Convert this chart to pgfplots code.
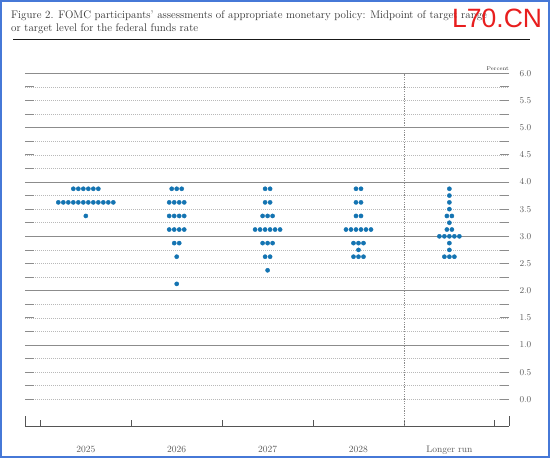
\documentclass[border=0pt]{standalone}
\usepackage{pgfplots}
\pgfplotsset{compat=1.18}
\usepackage{fontspec}
\newfontfamily\wmfont{Liberation Sans}
\definecolor{dotblue}{RGB}{20,116,178}
\definecolor{frameblue}{RGB}{70,120,215}
\definecolor{wmred}{RGB}{232,30,30}
\definecolor{solidgrid}{RGB}{140,140,140}
\definecolor{dotgrid}{RGB}{185,185,185}
\definecolor{axisgray}{RGB}{85,85,85}
\definecolor{labgray}{RGB}{90,90,90}
\begin{document}
\begin{tikzpicture}[x=1pt,y=1pt]
\path[use as bounding box] (0,0) rectangle (550,458);
\fill[white] (0,0) rectangle (550,458);
\draw[frameblue, line width=2.4pt] (1.2,1.2) rectangle (548.8,456.8);
\node[anchor=base west, inner sep=0, font=\fontsize{11}{13}\selectfont, text=black!80] at (11,439) {Figure 2. FOMC participants’ assessments of appropriate monetary policy: Midpoint of target range};
\node[anchor=base west, inner sep=0, font=\fontsize{11}{13}\selectfont, text=black!80] at (11,426.3) {or target level for the federal funds rate};
\draw[line width=1.3pt, black!90] (13,418.7) -- (530,418.7);
\begin{axis}[
  at={(25.2pt,32pt)}, anchor=south west, scale only axis,
  width=483.8pt, height=352.7pt,
  xmin=-0.667, xmax=4.656, ymin=-0.49, ymax=6,
  axis line style={draw=none},
  clip=false,
  major tick length=6pt,
  xtick={-0.5,0.5,1.5,2.5,3.5,4.5}, xticklabels={},
  xtick pos=bottom, xtick align=inside,
  xtick style={axisgray, line width=0.8pt},
  extra x ticks={0,1,2,3,4},
  extra x tick labels={2025,2026,2027,2028,Longer run},
  extra x tick style={major tick length=0pt, xtick style={draw=none}, xticklabel style={anchor=base, yshift=-27pt}},
  xticklabel style={font=\fontsize{9.5}{11}\selectfont, text=labgray},
  ytick={1,2,3,4,5,6}, yticklabels={},
  minor ytick={0,0.25,...,6},
  ytick pos=both, ytick align=inside,
  ytick style={solidgrid, line width=0.8pt},
  minor tick length=9pt,
  minor tick style={solidgrid, line width=0.8pt},
  ymajorgrids, yminorgrids,
  major grid style={solidgrid, line width=0.8pt},
  minor grid style={dotgrid, line width=0.6pt, dash pattern=on 1pt off 1pt},
  extra y ticks={0,0.5,1,1.5,2,2.5,3,3.5,4,4.5,5,5.5,6},
  extra y tick style={grid=none, ytick style={draw=none}},
  yticklabel pos=right,
  yticklabel style={font=\fontsize{9.5}{11}\selectfont, text=labgray, anchor=west, xshift=7pt,
    /pgf/number format/.cd, fixed, fixed zerofill, precision=1},
]
\draw[axisgray, line width=0.9pt] (rel axis cs:0,0) -- (rel axis cs:1,0);
\draw[axisgray, line width=0.8pt] (rel axis cs:0,0) -- ++(0pt,10pt);
\draw[axisgray, line width=0.8pt] (rel axis cs:1,0) -- ++(0pt,10pt);
\draw[solidgrid, line width=0.7pt, dash pattern=on 1.2pt off 1.2pt] (axis cs:3.5,-0.49) -- (axis cs:3.5,6);
\node[anchor=base east, inner sep=0, font=\fontsize{5.5}{6}\selectfont, text=black!80] at ([yshift=2.5pt]rel axis cs:1,1) {Percent};

% 2025
\addplot[only marks, mark=*, mark size=2.1pt, color=dotblue, mark options={draw=dotblue, fill=dotblue}] table {
x y
-0.1375 3.875
-0.0825 3.875
-0.0275 3.875
0.0275 3.875
0.0825 3.875
0.1375 3.875
-0.3025 3.625
-0.2475 3.625
-0.1925 3.625
-0.1375 3.625
-0.0825 3.625
-0.0275 3.625
0.0275 3.625
0.0825 3.625
0.1375 3.625
0.1925 3.625
0.2475 3.625
0.3025 3.625
0 3.375
};
% 2026
\addplot[only marks, mark=*, mark size=2.1pt, color=dotblue, mark options={draw=dotblue, fill=dotblue}] table {
x y
0.945 3.875
1 3.875
1.055 3.875
0.9175 3.625
0.9725 3.625
1.0275 3.625
1.0825 3.625
0.9175 3.375
0.9725 3.375
1.0275 3.375
1.0825 3.375
0.9175 3.125
0.9725 3.125
1.0275 3.125
1.0825 3.125
0.9725 2.875
1.0275 2.875
1 2.625
1 2.125
};
% 2027
\addplot[only marks, mark=*, mark size=2.1pt, color=dotblue, mark options={draw=dotblue, fill=dotblue}] table {
x y
1.9725 3.875
2.0275 3.875
1.9725 3.625
2.0275 3.625
1.945 3.375
2 3.375
2.055 3.375
1.8625 3.125
1.9175 3.125
1.9725 3.125
2.0275 3.125
2.0825 3.125
2.1375 3.125
1.945 2.875
2 2.875
2.055 2.875
1.9725 2.625
2.0275 2.625
2 2.375
};
% 2028
\addplot[only marks, mark=*, mark size=2.1pt, color=dotblue, mark options={draw=dotblue, fill=dotblue}] table {
x y
2.9725 3.875
3.0275 3.875
2.9725 3.625
3.0275 3.625
2.9725 3.375
3.0275 3.375
2.8625 3.125
2.9175 3.125
2.9725 3.125
3.0275 3.125
3.0825 3.125
3.1375 3.125
2.945 2.875
3 2.875
3.055 2.875
3 2.75
2.945 2.625
3 2.625
3.055 2.625
};
% Longer run
\addplot[only marks, mark=*, mark size=2.1pt, color=dotblue, mark options={draw=dotblue, fill=dotblue}] table {
x y
4 3.875
4 3.75
4 3.625
4 3.5
3.9725 3.375
4.0275 3.375
4 3.25
3.9725 3.125
4.0275 3.125
3.89 3.0
3.945 3.0
4 3.0
4.055 3.0
4.11 3.0
4 2.875
4 2.75
3.945 2.625
4 2.625
4.055 2.625
};
\end{axis}
\node[anchor=base west, inner sep=0, font=\wmfont\fontsize{26.5}{28}\selectfont, text=wmred] at (452,430) {L70.CN};
\end{tikzpicture}
\end{document}
